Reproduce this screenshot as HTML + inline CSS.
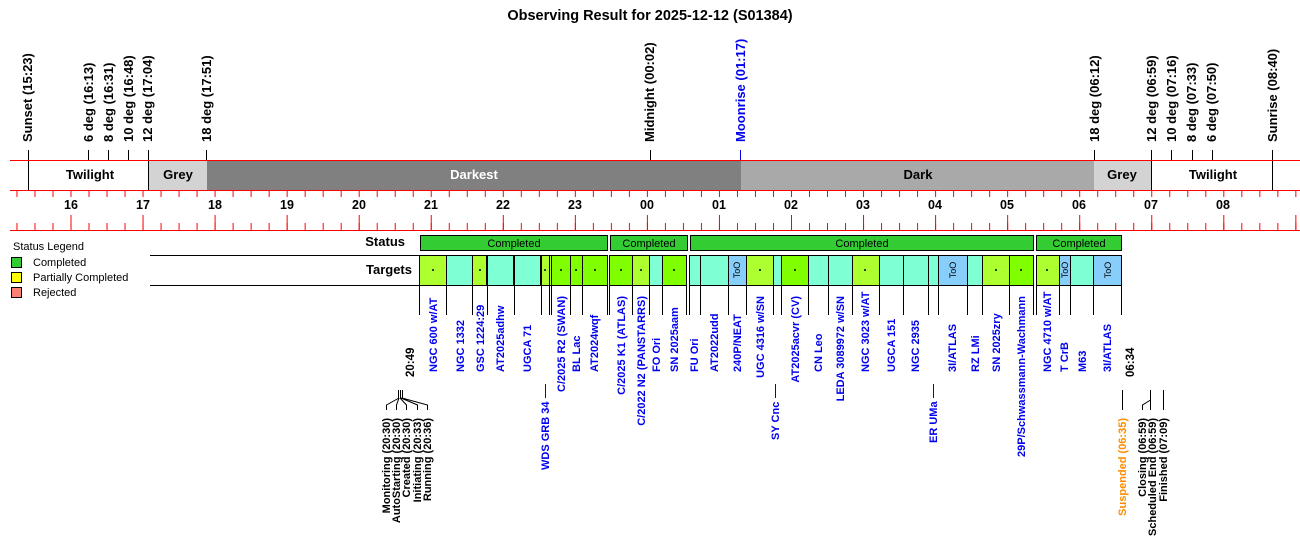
<!DOCTYPE html>
<html><head><meta charset="utf-8"><style>
html,body{margin:0;padding:0;background:#fff;}
svg{display:block;font-family:"Liberation Sans",Arial,sans-serif;}
.tl{font-size:13px;font-weight:bold;fill:#000;}
.hr{font-size:12.5px;font-weight:bold;text-anchor:middle;}
.tg{font-size:11px;font-weight:bold;fill:#0000ee;}
.ev{font-size:11px;font-weight:bold;fill:#000;}
.too{font-size:9px;fill:#000;text-anchor:middle;}
</style></head><body>
<svg width="1300" height="560" viewBox="0 0 1300 560" xmlns="http://www.w3.org/2000/svg">
<defs>
<pattern id="q" x="70.5" y="0" width="18.0125" height="560" patternUnits="userSpaceOnUse"><rect x="0" y="0" width="1" height="560" fill="#f00"/></pattern>
<pattern id="h" x="70.5" y="0" width="72.05" height="560" patternUnits="userSpaceOnUse"><rect x="0" y="0" width="1" height="560" fill="#f00"/></pattern>
</defs>
<text x="650" y="20" text-anchor="middle" style="font-size:14.5px;font-weight:bold">Observing Result for 2025-12-12 (S01384)</text>

<!-- top event labels -->
<g class="tl">
<text transform="translate(32,142) rotate(-90)">Sunset (15:23)</text>
<text transform="translate(93,142) rotate(-90)">6 deg (16:13)</text>
<text transform="translate(113,142) rotate(-90)">8 deg (16:31)</text>
<text transform="translate(133,142) rotate(-90)">10 deg (16:48)</text>
<text transform="translate(152,142) rotate(-90)">12 deg (17:04)</text>
<text transform="translate(211,142) rotate(-90)">18 deg (17:51)</text>
<text transform="translate(654,142) rotate(-90)">Midnight (00:02)</text>
<text transform="translate(745,142) rotate(-90)" fill="#0000ee">Moonrise (01:17)</text>
<text transform="translate(1099,142) rotate(-90)">18 deg (06:12)</text>
<text transform="translate(1156,142) rotate(-90)">12 deg (06:59)</text>
<text transform="translate(1176,142) rotate(-90)">10 deg (07:16)</text>
<text transform="translate(1196,142) rotate(-90)">8 deg (07:33)</text>
<text transform="translate(1216,142) rotate(-90)">6 deg (07:50)</text>
<text transform="translate(1277,142) rotate(-90)">Sunrise (08:40)</text>
</g>
<g stroke="#000" stroke-width="1">
<line x1="28.5" y1="150" x2="28.5" y2="190"/>
<line x1="88.5" y1="150" x2="88.5" y2="160"/>
<line x1="108.5" y1="150" x2="108.5" y2="160"/>
<line x1="128.5" y1="150" x2="128.5" y2="160"/>
<line x1="148.5" y1="150" x2="148.5" y2="160"/>
<line x1="206.5" y1="150" x2="206.5" y2="160"/>
<line x1="650.5" y1="150" x2="650.5" y2="160"/>
<line x1="1094.5" y1="150" x2="1094.5" y2="160"/>
<line x1="1151.5" y1="150" x2="1151.5" y2="160"/>
<line x1="1171.5" y1="150" x2="1171.5" y2="160"/>
<line x1="1192.5" y1="150" x2="1192.5" y2="160"/>
<line x1="1212.5" y1="150" x2="1212.5" y2="160"/>
<line x1="1272.5" y1="150" x2="1272.5" y2="190"/>
</g>
<line x1="740.5" y1="150" x2="740.5" y2="160" stroke="#0000ee"/>

<!-- bands -->
<rect x="148" y="160" width="59" height="30" fill="#d3d3d3"/>
<rect x="207" y="160" width="534" height="30" fill="#808080"/>
<rect x="741" y="160" width="353" height="30" fill="#a9a9a9"/>
<rect x="1094" y="160" width="57" height="30" fill="#d3d3d3"/>
<line x1="148.5" y1="160" x2="148.5" y2="190" stroke="#000"/>
<line x1="1151.5" y1="160" x2="1151.5" y2="190" stroke="#000"/>
<g style="font-size:13px;font-weight:bold" text-anchor="middle">
<text x="90" y="179">Twilight</text>
<text x="178" y="179">Grey</text>
<text x="474" y="179" fill="#fff">Darkest</text>
<text x="918" y="179">Dark</text>
<text x="1122" y="179">Grey</text>
<text x="1213" y="179">Twilight</text>
</g>
<line x1="10" y1="160.5" x2="1300" y2="160.5" stroke="#f00"/>
<line x1="10" y1="190.5" x2="1300" y2="190.5" stroke="#f00"/>
<line x1="10" y1="230.5" x2="1300" y2="230.5" stroke="#f00"/>
<rect x="15" y="191" width="1285" height="6" fill="url(#q)"/>
<rect x="15" y="223" width="1285" height="7" fill="url(#q)"/>
<rect x="15" y="215" width="1285" height="15" fill="url(#h)"/>
<g class="hr">
<text x="71" y="209">16</text><text x="143" y="209">17</text><text x="215" y="209">18</text><text x="287" y="209">19</text><text x="359" y="209">20</text><text x="431" y="209">21</text><text x="503" y="209">22</text><text x="575" y="209">23</text><text x="647" y="209">00</text><text x="719" y="209">01</text><text x="791" y="209">02</text><text x="863" y="209">03</text><text x="935" y="209">04</text><text x="1007" y="209">05</text><text x="1079" y="209">06</text><text x="1151" y="209">07</text><text x="1223" y="209">08</text>
</g>

<!-- legend -->
<text x="13" y="250" style="font-size:11px">Status Legend</text>
<rect x="11.5" y="257.5" width="10" height="10" fill="#33cc33" stroke="#000"/>
<rect x="11.5" y="272.5" width="10" height="10" fill="#ffff00" stroke="#000"/>
<rect x="11.5" y="287.5" width="10" height="10" fill="#fa8072" stroke="#000"/>
<g style="font-size:11px"><text x="33" y="266">Completed</text><text x="33" y="281">Partially Completed</text><text x="33" y="296">Rejected</text></g>

<text x="405" y="246" text-anchor="end" style="font-size:13px;font-weight:bold">Status</text>
<text x="412" y="274" text-anchor="end" style="font-size:13px;font-weight:bold">Targets</text>
<line x1="150" y1="255.5" x2="420" y2="255.5" stroke="#000"/>
<line x1="150" y1="285.5" x2="420" y2="285.5" stroke="#000"/>

<!-- status -->
<g stroke="#000" fill="#33cc33">
<rect x="420.5" y="235.5" width="187" height="15"/>
<rect x="610.5" y="235.5" width="77" height="15"/>
<rect x="690.5" y="235.5" width="343" height="15"/>
<rect x="1036.5" y="235.5" width="85" height="15"/>
</g>
<g style="font-size:11px" text-anchor="middle">
<text x="514" y="247">Completed</text><text x="649" y="247">Completed</text><text x="862" y="247">Completed</text><text x="1079" y="247">Completed</text>
</g>

<!-- targets -->
<g stroke="#000">
<rect x="419.5" y="255.5" width="27" height="30" fill="#adff2f"/>
<rect x="446.5" y="255.5" width="26" height="30" fill="#7fffd4"/>
<rect x="472.5" y="255.5" width="14" height="30" fill="#adff2f"/>
<rect x="487.5" y="255.5" width="26" height="30" fill="#7fffd4"/>
<rect x="514.5" y="255.5" width="26" height="30" fill="#7fffd4"/>
<rect x="541.5" y="255.5" width="8" height="30" fill="#adff2f"/>
<rect x="549.5" y="255.5" width="2" height="30" fill="#adff2f"/>
<rect x="551.5" y="255.5" width="19" height="30" fill="#7fff00"/>
<rect x="570.5" y="255.5" width="12" height="30" fill="#7fff00"/>
<rect x="582.5" y="255.5" width="25" height="30" fill="#7fff00"/>
<rect x="609.5" y="255.5" width="23" height="30" fill="#7fff00"/>
<rect x="632.5" y="255.5" width="17" height="30" fill="#adff2f"/>
<rect x="649.5" y="255.5" width="13" height="30" fill="#7fffd4"/>
<rect x="662.5" y="255.5" width="24" height="30" fill="#7fff00"/>
<rect x="689.5" y="255.5" width="11" height="30" fill="#7fffd4"/>
<rect x="700.5" y="255.5" width="28" height="30" fill="#7fffd4"/>
<rect x="728.5" y="255.5" width="18" height="30" fill="#87cefa"/>
<rect x="746.5" y="255.5" width="27" height="30" fill="#adff2f"/>
<rect x="773.5" y="255.5" width="8" height="30" fill="#7fffd4"/>
<rect x="781.5" y="255.5" width="27" height="30" fill="#7fff00"/>
<rect x="808.5" y="255.5" width="20" height="30" fill="#7fffd4"/>
<rect x="828.5" y="255.5" width="24" height="30" fill="#7fffd4"/>
<rect x="852.5" y="255.5" width="27" height="30" fill="#adff2f"/>
<rect x="879.5" y="255.5" width="24" height="30" fill="#7fffd4"/>
<rect x="903.5" y="255.5" width="25" height="30" fill="#7fffd4"/>
<rect x="928.5" y="255.5" width="10" height="30" fill="#7fffd4"/>
<rect x="938.5" y="255.5" width="29" height="30" fill="#87cefa"/>
<rect x="967.5" y="255.5" width="15" height="30" fill="#7fffd4"/>
<rect x="982.5" y="255.5" width="27" height="30" fill="#adff2f"/>
<rect x="1009.5" y="255.5" width="24" height="30" fill="#7fff00"/>
<rect x="1036.5" y="255.5" width="23" height="30" fill="#adff2f"/>
<rect x="1059.5" y="255.5" width="11" height="30" fill="#87cefa"/>
<rect x="1070.5" y="255.5" width="23" height="30" fill="#7fffd4"/>
<rect x="1093.5" y="255.5" width="28" height="30" fill="#87cefa"/>
</g>
<g fill="#000">
<circle cx="433" cy="270" r="1"/><circle cx="480" cy="270" r="1"/><circle cx="545" cy="270" r="1"/><circle cx="561" cy="270" r="1"/><circle cx="576" cy="270" r="1"/><circle cx="595" cy="270" r="1"/><circle cx="621" cy="270" r="1"/><circle cx="641" cy="270" r="1"/><circle cx="674" cy="270" r="1"/><circle cx="760" cy="270" r="1"/><circle cx="795" cy="270" r="1"/><circle cx="865" cy="270" r="1"/><circle cx="996" cy="270" r="1"/><circle cx="1021" cy="270" r="1"/><circle cx="1047" cy="270" r="1"/>
</g>
<g class="too">
<text transform="translate(740,270) rotate(-90)">ToO</text>
<text transform="translate(956,270) rotate(-90)">ToO</text>
<text transform="translate(1068,270) rotate(-90)">ToO</text>
<text transform="translate(1111,270) rotate(-90)">ToO</text>
</g>

<!-- label lines -->
<path stroke="#000" fill="none" d="M419.5,285V315M446.5,285V315M472.5,285V315M487.5,285V315M514.5,285V315M541.5,285V315M549.5,285V315M551.5,285V315M570.5,285V315M582.5,285V315M607.5,285V315M609.5,285V315M632.5,285V315M649.5,285V315M662.5,285V315M686.5,285V315M689.5,285V315M700.5,285V315M728.5,285V315M746.5,285V315M773.5,285V315M781.5,285V315M808.5,285V315M828.5,285V315M852.5,285V315M879.5,285V315M903.5,285V315M928.5,285V315M938.5,285V315M967.5,285V315M982.5,285V315M1009.5,285V315M1033.5,285V315M1036.5,285V315M1059.5,285V315M1070.5,285V315M1093.5,285V315M1121.5,285V315"/>

<g class="tg">
<text transform="translate(437,372) rotate(-90)">NGC 600 w/AT</text>
<text transform="translate(464,372) rotate(-90)">NGC 1332</text>
<text transform="translate(484,372) rotate(-90)">GSC 1224:29</text>
<text transform="translate(504,372) rotate(-90)">AT2025adhw</text>
<text transform="translate(531,372) rotate(-90)">UGCA 71</text>
<text transform="translate(549,470) rotate(-90)">WDS GRB 34</text>
<text transform="translate(565,296) rotate(-90)" text-anchor="end">C/2025 R2 (SWAN)</text>
<text transform="translate(580,372) rotate(-90)">BL Lac</text>
<text transform="translate(598,372) rotate(-90)">AT2024wqf</text>
<text transform="translate(625,296) rotate(-90)" text-anchor="end">C/2025 K1 (ATLAS)</text>
<text transform="translate(645,296) rotate(-90)" text-anchor="end">C/2022 N2 (PANSTARRS)</text>
<text transform="translate(660,372) rotate(-90)">FO Ori</text>
<text transform="translate(678,372) rotate(-90)">SN 2025aam</text>
<text transform="translate(698,372) rotate(-90)">FU Ori</text>
<text transform="translate(718,372) rotate(-90)">AT2022udd</text>
<text transform="translate(741,372) rotate(-90)">240P/NEAT</text>
<text transform="translate(764,296) rotate(-90)" text-anchor="end">UGC 4316 w/SN</text>
<text transform="translate(779,440) rotate(-90)">SY Cnc</text>
<text transform="translate(799,296) rotate(-90)" text-anchor="end">AT2025acvr (CV)</text>
<text transform="translate(822,372) rotate(-90)">CN Leo</text>
<text transform="translate(844,296) rotate(-90)" text-anchor="end">LEDA 3089972 w/SN</text>
<text transform="translate(869,372) rotate(-90)">NGC 3023 w/AT</text>
<text transform="translate(895,372) rotate(-90)">UGCA 151</text>
<text transform="translate(919,372) rotate(-90)">NGC 2935</text>
<text transform="translate(937,443) rotate(-90)">ER UMa</text>
<text transform="translate(956,372) rotate(-90)">3I/ATLAS</text>
<text transform="translate(979,372) rotate(-90)">RZ LMi</text>
<text transform="translate(1000,372) rotate(-90)">SN 2025zry</text>
<text transform="translate(1025,296) rotate(-90)" text-anchor="end">29P/Schwassmann-Wachmann</text>
<text transform="translate(1051,372) rotate(-90)">NGC 4710 w/AT</text>
<text transform="translate(1068,372) rotate(-90)">T CrB</text>
<text transform="translate(1086,372) rotate(-90)">M63</text>
<text transform="translate(1111,372) rotate(-90)">3I/ATLAS</text>
</g>
<g stroke="#0000ee">
<line x1="545.5" y1="384" x2="545.5" y2="398"/>
<line x1="775.5" y1="384" x2="775.5" y2="398"/>
<line x1="933.5" y1="384" x2="933.5" y2="398"/>
</g>

<!-- events -->
<g class="ev">
<text transform="translate(414,377) rotate(-90)" style="font-size:11.5px">20:49</text>
<text transform="translate(1134,377) rotate(-90)" style="font-size:11.5px">06:34</text>
<g text-anchor="end">
<text transform="translate(390,418) rotate(-90)">Monitoring (20:30)</text>
<text transform="translate(400,418) rotate(-90)">AutoStarting (20:30)</text>
<text transform="translate(410,418) rotate(-90)">Created (20:30)</text>
<text transform="translate(421,418) rotate(-90)">Initiating (20:33)</text>
<text transform="translate(431,418) rotate(-90)">Running (20:36)</text>
<text transform="translate(1126,418) rotate(-90)" fill="#ff8c00">Suspended (06:35)</text>
<text transform="translate(1146,418) rotate(-90)">Closing (06:59)</text>
<text transform="translate(1156,418) rotate(-90)">Scheduled End (06:59)</text>
<text transform="translate(1167,418) rotate(-90)">Finished (07:09)</text>
</g>
</g>
<g stroke="#000" fill="none">
<path d="M398.5,390V398M400.5,390V398M402.5,390V398"/>
<path d="M399,398L386.5,405V410M399,398L396.5,405V410M400,398L406.5,405V410M401,398L417.5,405V410M402,398L427.5,405V410"/>
<path d="M1122.5,390V410"/>
<path d="M1150.5,390V400L1142.5,405V410M1150.5,400V410"/>
<path d="M1163.5,390V410"/>
</g>
</svg>
</body></html>
